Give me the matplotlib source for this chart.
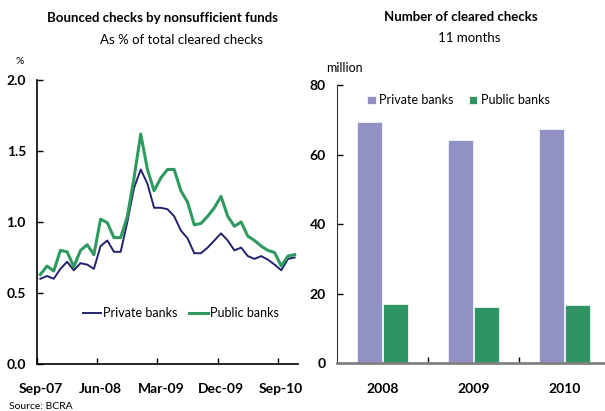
import matplotlib.pyplot as plt
import numpy as np

plt.rcParams['font.family'] = ['Lato', 'DejaVu Sans']

# monthly data, Sep-07 .. Nov-10
months = ['Sep-07', 'Oct-07', 'Nov-07', 'Dec-07', 'Jan-08', 'Feb-08', 'Mar-08', 'Apr-08',
          'May-08', 'Jun-08', 'Jul-08', 'Aug-08', 'Sep-08', 'Oct-08', 'Nov-08', 'Dec-08',
          'Jan-09', 'Feb-09', 'Mar-09', 'Apr-09', 'May-09', 'Jun-09', 'Jul-09', 'Aug-09',
          'Sep-09', 'Oct-09', 'Nov-09', 'Dec-09', 'Jan-10', 'Feb-10', 'Mar-10', 'Apr-10',
          'May-10', 'Jun-10', 'Jul-10', 'Aug-10', 'Sep-10', 'Oct-10', 'Nov-10']
private_pct = [0.60, 0.62, 0.60, 0.67, 0.72, 0.66, 0.71, 0.70, 0.67, 0.83,
               0.87, 0.79, 0.79, 1.00, 1.24, 1.37, 1.27, 1.10, 1.10, 1.09,
               1.04, 0.94, 0.885, 0.78, 0.78, 0.82, 0.87, 0.92, 0.87, 0.80,
               0.82, 0.76, 0.74, 0.76, 0.735, 0.70, 0.66, 0.74, 0.75]
public_pct = [0.63, 0.69, 0.655, 0.80, 0.79, 0.685, 0.80, 0.84, 0.77, 1.02,
              0.995, 0.89, 0.89, 1.04, 1.31, 1.62, 1.37, 1.22, 1.31, 1.37,
              1.37, 1.22, 1.14, 0.98, 0.99, 1.04, 1.10, 1.18, 1.04, 0.97,
              1.00, 0.90, 0.87, 0.83, 0.80, 0.785, 0.69, 0.76, 0.77]

years = ['2008', '2009', '2010']
private_checks = [69.4, 64.1, 67.4]
public_checks = [17.0, 16.2, 16.7]

navy = '#22226e'
green = '#2e9a60'
lav = '#9291c6'
bgreen = '#2e9464'

fig = plt.figure(figsize=(6.05, 4.11), dpi=100)

# ---- left: line chart
ax1 = fig.add_axes([37/605, 1 - 364/411, 261/605, 284/411])
x = np.arange(len(months))
ax1.plot(x, private_pct, color=navy, lw=1.4, label='Private banks')
ax1.plot(x, public_pct, color=green, lw=2.2, label='Public banks')
ax1.set_xlim(-0.5, len(months) - 0.5)
ax1.set_ylim(0, 2.0)
ax1.set_yticks([0, 0.5, 1.0, 1.5, 2.0])
ax1.set_yticklabels(['0.0', '0.5', '1.0', '1.5', '2.0'])
ax1.set_xticks(np.arange(0, len(months), 9) - 0.5)
ax1.set_xticklabels([])
ax1.set_xticks(np.arange(0, len(months), 9), minor=True)
ax1.set_xticklabels([months[i] for i in range(0, len(months), 9)], minor=True)
ax1.tick_params(axis='x', which='minor', length=0, pad=14)
ax1.tick_params(which='major', direction='in', length=4, width=1)
ax1.tick_params(axis='y', pad=8)
for lab in ax1.get_xticklabels(minor=True) + ax1.get_yticklabels():
    lab.set_fontweight('bold')
    lab.set_fontsize(10)
for s in ['top', 'right']:
    ax1.spines[s].set_visible(False)
for s in ['left', 'bottom']:
    ax1.spines[s].set_linewidth(1.2)
ax1.legend(loc='center', bbox_to_anchor=(0.55, 0.18), ncol=2, frameon=False,
           fontsize=9, handlelength=1.5, handletextpad=0.15, columnspacing=0.9)

fig.text(162/605, 1 - 18/411, 'Bounced checks by nonsufficient funds', ha='center',
         va='center', fontweight='bold', fontsize=9.5)
fig.text(181/605, 1 - 40/411, 'As % of total cleared checks', ha='center', va='center',
         fontsize=9.5)
fig.text(20/605, 1 - 62/411, '%', ha='center', va='center', fontsize=7.5)
fig.text(9/605, 1 - 406/411, 'Source: BCRA', ha='left', va='center', fontsize=7.5)

# ---- right: bar chart
ax2 = fig.add_axes([337/605, 1 - 363.3/411, 273/605, 278.3/411])
xc = np.arange(len(years))
w = 0.275
ax2.bar(xc - 0.14, private_checks, w, color=lav, edgecolor='white', lw=0.5,
        label='Private banks')
ax2.bar(xc + 0.14, public_checks, w, color=bgreen, edgecolor='white', lw=0.5,
        label='Public banks')
ax2.set_xlim(-0.5, 2.5)
ax2.set_ylim(0, 80)
ax2.set_yticks([0, 20, 40, 60, 80])
ax2.set_xticks(xc + 0.5)
ax2.set_xticklabels([])
ax2.set_xticks(xc, minor=True)
ax2.set_xticklabels(years, minor=True)
ax2.tick_params(axis='x', which='minor', length=0, pad=14)
ax2.tick_params(which='major', direction='in', length=4, width=1)
ax2.tick_params(axis='y', pad=8)
for lab in ax2.get_xticklabels(minor=True) + ax2.get_yticklabels():
    lab.set_fontweight('bold')
    lab.set_fontsize(10)
for s in ['top', 'right']:
    ax2.spines[s].set_visible(False)
ax2.spines['left'].set_color('#333333')
ax2.spines['bottom'].set_color('#808080')
ax2.spines['bottom'].set_linewidth(2)
ax2.legend(loc='center', bbox_to_anchor=(0.445, 0.945), ncol=2, frameon=False,
           fontsize=9, handlelength=0.7, handleheight=0.7, handletextpad=0.3,
           columnspacing=1.2)

fig.text(461/605, 1 - 17/411, 'Number of cleared checks', ha='center', va='center',
         fontweight='bold', fontsize=9.5)
fig.text(469/605, 1 - 38/411, '11 months', ha='center', va='center', fontsize=9.5)
fig.text(344/605, 1 - 68/411, 'million', ha='center', va='center', fontsize=9)

fig.savefig('out.png', dpi=100)
